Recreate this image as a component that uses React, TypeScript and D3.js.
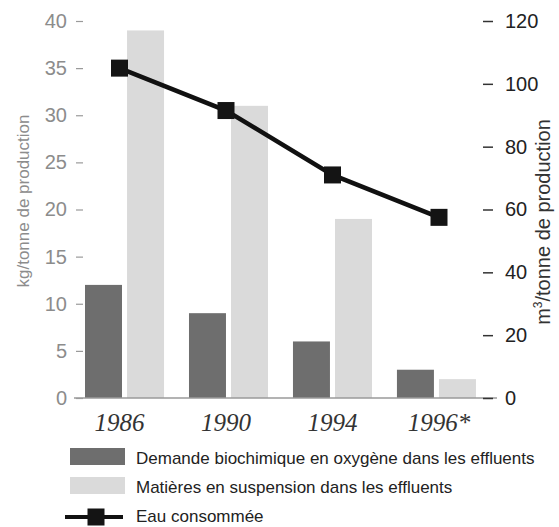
import { useEffect, useRef } from "react";
import * as d3 from "d3";

const years = ["1986", "1990", "1994", "1996*"];
const bodValues = [12, 9, 6, 3]; // kg/tonne
const mesValues = [39, 31, 19, 2]; // kg/tonne
const waterValues = [105, 91.5, 71, 57.5]; // m3/tonne
const leftTicks = [0, 5, 10, 15, 20, 25, 30, 35, 40];
const rightTicks = [0, 20, 40, 60, 80, 100, 120];
const legendLabels = [
  "Demande biochimique en oxygène dans les effluents",
  "Matières en suspension dans les effluents",
  "Eau consommée",
];

const App = () => {
  const svgRef = useRef<SVGSVGElement>(null);

  useEffect(() => {
    if (!svgRef.current) return;
    d3.select(svgRef.current).selectAll("*").remove();

    const width = 559;
    const height = 527;
    const dark = "#6e6e6e";
    const light = "#dadada";
    const sans = "'Liberation Sans', Arial, sans-serif";

    const svg = d3.select(svgRef.current)
      .attr("width", width)
      .attr("height", height)
      .attr("viewBox", `0 0 ${width} ${height}`);

    svg.append("rect").attr("width", width).attr("height", height).attr("fill", "#fff");

    const yLeft = d3.scaleLinear().domain([0, 40]).range([398, 21]);
    const yRight = d3.scaleLinear().domain([0, 120]).range([398, 21]);

    const x = d3.scaleBand<string>()
      .domain(years)
      .range([75, 493])
      .paddingInner(0.24)
      .paddingOuter(0.13)
      .align(0.37);
    const xSub = d3.scaleBand<string>()
      .domain(["bod", "mes"])
      .range([0, x.bandwidth()])
      .paddingInner(0.12);
    const xLine = d3.scalePoint<string>().domain(years).range([119.5, 439]);

    // Bars
    const groups = svg.append("g").selectAll("g")
      .data(years)
      .join("g")
      .attr("transform", d => `translate(${x(d)},0)`);

    groups.append("rect")
      .attr("x", xSub("bod")!)
      .attr("width", xSub.bandwidth())
      .attr("y", (_, i) => yLeft(bodValues[i]))
      .attr("height", (_, i) => yLeft(0) - yLeft(bodValues[i]))
      .attr("fill", dark);

    groups.append("rect")
      .attr("x", xSub("mes")!)
      .attr("width", xSub.bandwidth())
      .attr("y", (_, i) => yLeft(mesValues[i]))
      .attr("height", (_, i) => yLeft(0) - yLeft(mesValues[i]))
      .attr("fill", light);

    // Baseline
    svg.append("line")
      .attr("x1", 74).attr("x2", 497)
      .attr("y1", yLeft(0)).attr("y2", yLeft(0))
      .attr("stroke", "#9a9a9a")
      .attr("stroke-width", 1.5);

    // Left axis
    const gl = svg.append("g")
      .attr("transform", "translate(83,0)")
      .call(d3.axisLeft(yLeft).tickValues(leftTicks).tickSize(7).tickPadding(9));
    gl.select(".domain").remove();
    gl.selectAll(".tick line").attr("stroke", "#9a9a9a").attr("stroke-width", 1.2);
    gl.selectAll(".tick text")
      .attr("fill", "#8c8c8c")
      .style("font-family", sans)
      .style("font-size", "20px");

    // Right axis
    const gr = svg.append("g")
      .attr("transform", "translate(483,0)")
      .call(d3.axisRight(yRight).tickValues(rightTicks).tickSize(10).tickPadding(12));
    gr.select(".domain").remove();
    gr.selectAll(".tick line").attr("stroke", "#333").attr("stroke-width", 1.5);
    gr.selectAll(".tick text")
      .attr("fill", "#222")
      .style("font-family", sans)
      .style("font-size", "20px");

    // Water line
    const line = d3.line<number>()
      .x((_, i) => xLine(years[i])!)
      .y(d => yRight(d));

    svg.append("path")
      .datum(waterValues)
      .attr("d", line)
      .attr("fill", "none")
      .attr("stroke", "#111")
      .attr("stroke-width", 4.5);

    svg.append("g").selectAll("rect")
      .data(waterValues)
      .join("rect")
      .attr("x", (_, i) => xLine(years[i])! - 8.5)
      .attr("y", d => yRight(d) - 8.5)
      .attr("width", 17)
      .attr("height", 17)
      .attr("fill", "#141414");

    // Year labels
    svg.append("g").selectAll("text")
      .data(years)
      .join("text")
      .attr("x", d => xLine(d)!)
      .attr("y", 431)
      .attr("text-anchor", "middle")
      .style("font-family", "'Liberation Serif', 'Times New Roman', serif")
      .style("font-style", "italic")
      .style("font-size", "25px")
      .style("fill", "#333")
      .text(d => d);

    // Axis titles
    svg.append("text")
      .attr("transform", "translate(29,201) rotate(-90)")
      .attr("text-anchor", "middle")
      .style("font-family", sans)
      .style("font-size", "17px")
      .style("fill", "#8c8c8c")
      .text("kg/tonne de production");

    const rt = svg.append("text")
      .attr("transform", "translate(550,222) rotate(-90)")
      .attr("text-anchor", "middle")
      .style("font-family", sans)
      .style("font-size", "20px")
      .style("fill", "#333");
    rt.append("tspan").text("m");
    rt.append("tspan").attr("dy", -8).style("font-size", "12px").text("3");
    rt.append("tspan").attr("dy", 8).text("/tonne de production");

    // Legend
    const legendY = [464, 493, 522];
    const lg = svg.append("g");
    [dark, light].forEach((c, i) => {
      lg.append("rect")
        .attr("x", 70).attr("y", legendY[i] - 16)
        .attr("width", 55).attr("height", 17)
        .attr("fill", c);
    });
    lg.append("line")
      .attr("x1", 65).attr("x2", 123)
      .attr("y1", legendY[2] - 5).attr("y2", legendY[2] - 5)
      .attr("stroke", "#111").attr("stroke-width", 4);
    lg.append("rect")
      .attr("x", 96 - 8.5).attr("y", legendY[2] - 5 - 8.5)
      .attr("width", 17).attr("height", 17)
      .attr("fill", "#141414");

    lg.selectAll("text.lbl")
      .data(legendLabels)
      .join("text")
      .attr("class", "lbl")
      .attr("x", 136)
      .attr("y", (_, i) => legendY[i])
      .style("font-family", sans)
      .style("font-size", "17px")
      .style("fill", "#222")
      .text(d => d);
  }, []);

  return (
    <svg ref={svgRef} style={{ position: "absolute", left: 0, top: 0, display: "block" }}></svg>
  );
};

export default App;
